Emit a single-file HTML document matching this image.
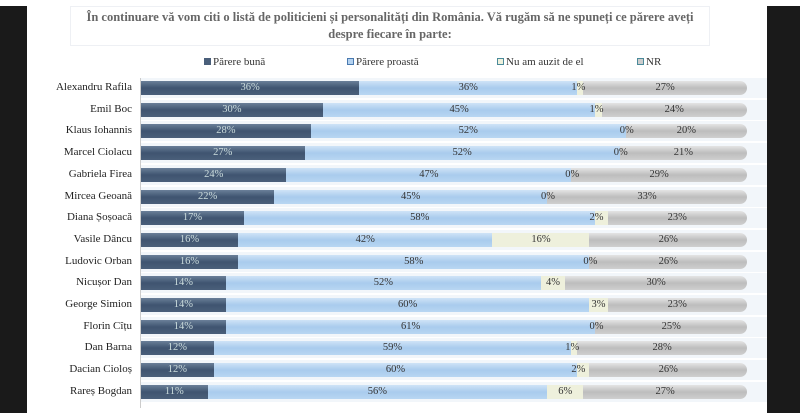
<!DOCTYPE html>
<html><head><meta charset="utf-8"><style>
body{margin:0;width:800px;height:413px;background:#fff;position:relative;overflow:hidden;font-family:"Liberation Serif",serif;}
.bl{position:absolute;top:6px;bottom:0;background:#1a1a1a}
.title{position:absolute;left:70px;top:6px;width:640px;height:40px;border:1px solid #eef0f4;text-align:center;font-size:12.5px;color:#666;line-height:17px;font-weight:bold;padding-top:2px;box-sizing:border-box}
.leg{position:absolute;top:56px;font-size:11px;color:#333}
.leg i{display:inline-block;width:7px;height:7px;margin-right:2px;vertical-align:0}
.row{position:absolute;left:141px;width:606px;height:14px;border-radius:0 7px 7px 0;overflow:hidden;display:flex}
.row div{height:100%;text-align:center;font-size:10.5px;line-height:14px;color:#333}
.a{background:linear-gradient(#6a7f99,#3f5470 50%,#4a5f7a);color:#cdd!important}
.b{background:linear-gradient(#cfe3f7,#a9cbed 50%,#b8d6f2)}
.c{background:#eef0dc}
.d{background:linear-gradient(#e4e4e4,#bdbdbd 50%,#cfcfcf)}
.lab{position:absolute;width:128px;left:4px;text-align:right;font-size:11px;color:#222}
.band{position:absolute;left:141px;width:626px;height:20px;background:#f2f6fa}
</style></head><body>
<div class="bl" style="left:0;width:27px"></div>
<div class="bl" style="left:767px;width:33px"></div>
<div class="title">În continuare vă vom citi o listă de politicieni și personalități din România. Vă rugăm să ne spuneți ce părere aveți despre fiecare în parte:</div>
<div class="leg" style="left:204px"><i style="background:#4a5f7a"></i>Părere bună</div>
<div class="leg" style="left:347px"><i style="background:#b4d2f0;border:1px solid #4a7ab0;width:5px;height:5px"></i>Părere proastă</div>
<div class="leg" style="left:497px"><i style="background:#eef0dc;border:1px solid #4a8a9a;width:5px;height:5px"></i>Nu am auzit de el</div>
<div class="leg" style="left:637px"><i style="background:#ccc;border:1px solid #4a8a9a;width:5px;height:5px"></i>NR</div>
<div style="position:absolute;left:140px;top:78px;width:1px;height:330px;background:#ccc"></div>
<div id="c"></div>
<script>
var d=[["Alexandru Rafila",36,36,1,27],["Emil Boc",30,45,1,24],["Klaus Iohannis",28,52,0,20],["Marcel Ciolacu",27,52,0,21],["Gabriela Firea",24,47,0,29],["Mircea Geoană",22,45,0,33],["Diana Șoșoacă",17,58,2,23],["Vasile Dâncu",16,42,16,26],["Ludovic Orban",16,58,0,26],["Nicușor Dan",14,52,4,30],["George Simion",14,60,3,23],["Florin Cîțu",14,61,0,25],["Dan Barna",12,59,1,28],["Dacian Cioloș",12,60,2,26],["Rareș Bogdan",11,56,6,27]];
var h="";
d.forEach(function(r,i){var y=81+i*21.7;
h+='<div class="band" style="top:'+(y-3)+'px"></div>';
h+='<div class="lab" style="top:'+(y)+'px">'+r[0]+'</div><div class="row" style="top:'+y+'px">';
var cl=["a","b","c","d"];var s=r[1]+r[2]+r[3]+r[4];
for(var k=0;k<4;k++){var w=r[k+1]/s*100;h+='<div class="'+cl[k]+'" style="width:'+w+'%;'+(r[k+1]<3?'overflow:visible;min-width:0;position:relative;':'')+'">'+(r[k+1]<3?'<span style="position:absolute;left:-6px">'+r[k+1]+'%</span>':r[k+1]+'%')+'</div>';}
h+='</div>';});
document.getElementById("c").innerHTML=h;
</script>
</body></html>
